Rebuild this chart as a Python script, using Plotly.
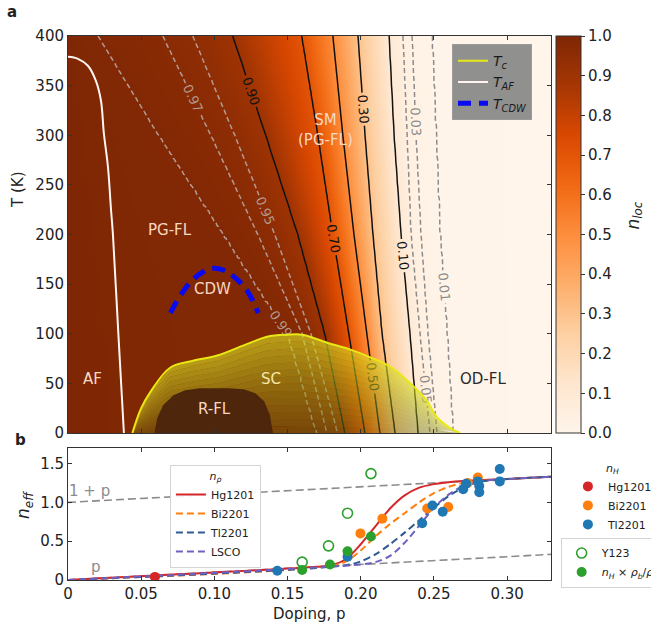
import numpy as np
import plotly.graph_objects as go

# ---------------- Panel a : n_loc contour positions (doping p at T nodes) ----------------
T_nodes = [0, 100, 200, 300, 400]
loc_levels = [0.99, 0.97, 0.95, 0.90, 0.70, 0.50, 0.30, 0.10, 0.05, 0.03, 0.01]
p_099 = [0.1701, 0.1503, 0.1066, 0.0622, 0.0205]
p_097 = [0.1769, 0.1600, 0.1298, 0.0977, 0.0649]
p_095 = [0.1844, 0.1660, 0.1414, 0.1140, 0.0854]
p_090 = [0.1892, 0.1755, 0.1571, 0.1352, 0.1127]
p_070 = [0.2029, 0.1919, 0.1810, 0.1708, 0.1598]
p_050 = [0.2131, 0.2042, 0.1954, 0.1878, 0.1810]
p_030 = [0.2234, 0.2145, 0.2083, 0.2029, 0.1981]
p_010 = [0.2391, 0.2336, 0.2275, 0.2227, 0.2193]
p_005 = [0.2473, 0.2404, 0.2343, 0.2316, 0.2288]
p_003 = [0.2520, 0.2459, 0.2411, 0.2377, 0.2350]
p_001 = [0.2630, 0.2589, 0.2541, 0.2514, 0.2486]
n_left_edge = 1.0
n_right_edge = 0.0
P_MAX = 0.33

# Tc dome
tc_p = [0.044, 0.050, 0.057, 0.070, 0.086, 0.102, 0.123, 0.136, 0.150, 0.160, 0.177,
        0.193, 0.207, 0.220, 0.234, 0.245, 0.252, 0.260, 0.268]
tc_T = [0, 25, 43, 66, 73, 78, 90, 97, 99, 99, 91, 84, 76, 67, 50, 33, 16, 6, 0]
# R-FL dome
rfl_p = [0.059, 0.061, 0.065, 0.072, 0.080, 0.090, 0.100, 0.110, 0.120, 0.128, 0.134, 0.138, 0.140]
rfl_T = [0, 15, 28, 38, 43, 45, 45, 45, 44, 40, 32, 18, 0]
# T_AF
taf_p = [0.0, 0.0068, 0.0136, 0.019, 0.0225, 0.0245, 0.0273, 0.0293, 0.0307, 0.0344, 0.0382]
taf_T = [379, 377, 370, 355, 335, 302, 268, 227, 200, 100, 0]
# T_CDW
cdw_p = [0.070, 0.077, 0.085, 0.093, 0.100, 0.108, 0.116, 0.123, 0.130]
cdw_T = [121, 139, 154, 163, 166, 163, 154, 142, 121]

# ---------------- Panel b ----------------
ref_p = [0.0, 0.33]
ref_1p = [1.0, 1.33]
ref_p_n = [0.0, 0.33]

hg_p = [0, 0.17, 0.18, 0.19, 0.20, 0.21, 0.22, 0.23, 0.24, 0.25, 0.26, 0.27, 0.30, 0.33]
hg_n = [0, 0.17, 0.19, 0.27, 0.46, 0.69, 0.92, 1.09, 1.19, 1.235, 1.26, 1.275, 1.30, 1.33]
bi_p = [0, 0.18, 0.19, 0.20, 0.21, 0.22, 0.23, 0.24, 0.25, 0.26, 0.27, 0.30, 0.33]
bi_n = [0, 0.18, 0.24, 0.38, 0.56, 0.72, 0.86, 1.00, 1.12, 1.20, 1.25, 1.30, 1.33]
tl_p = [0, 0.19, 0.20, 0.21, 0.22, 0.23, 0.24, 0.25, 0.26, 0.27, 0.28, 0.30, 0.33]
tl_n = [0, 0.19, 0.24, 0.33, 0.46, 0.61, 0.77, 0.93, 1.08, 1.19, 1.26, 1.30, 1.33]
lsco_p = [0, 0.20, 0.21, 0.22, 0.23, 0.24, 0.25, 0.26, 0.27, 0.28, 0.30, 0.33]
lsco_n = [0, 0.20, 0.23, 0.31, 0.48, 0.70, 0.93, 1.10, 1.21, 1.27, 1.30, 1.33]

hgH_p = [0.0594]
hgH_n = [0.04]
biH_p = [0.1998, 0.2148, 0.2454, 0.2598, 0.273, 0.280]
biH_n = [0.60, 0.79, 0.92, 0.94, 1.25, 1.32]
tlH_p = [0.143, 0.191, 0.242, 0.249, 0.256, 0.270, 0.272, 0.281, 0.281, 0.280, 0.295, 0.295]
tlH_n = [0.12, 0.30, 0.73, 0.96, 0.88, 1.17, 1.24, 1.21, 1.13, 1.27, 1.43, 1.27]
y123_p = [0.160, 0.178, 0.191, 0.207]
y123_n = [0.23, 0.44, 0.86, 1.37]
grn_p = [0.160, 0.179, 0.191, 0.207]
grn_n = [0.13, 0.20, 0.37, 0.56]

# ---------------- build the n_loc field from the read contour positions ----------------
p_grid = np.round(np.linspace(0, P_MAX, 331), 4)
T_grid = np.arange(0, 401, 4)
level_pos = [p_099, p_097, p_095, p_090, p_070, p_050, p_030, p_010, p_005, p_003, p_001]
Z = np.empty((len(T_grid), len(p_grid)))
for i, T in enumerate(T_grid):
    pos = [float(np.interp(T, T_nodes, row)) for row in level_pos]
    xp = [0.0] + pos + [P_MAX]
    fp = [n_left_edge] + loc_levels + [n_right_edge]
    Z[i] = np.interp(p_grid, xp, fp)
Z = np.round(Z, 4)

oranges = [[0.0, 'rgb(255,245,235)'], [0.125, 'rgb(254,230,206)'], [0.25, 'rgb(253,208,162)'],
           [0.375, 'rgb(253,174,107)'], [0.5, 'rgb(253,141,60)'], [0.625, 'rgb(241,105,19)'],
           [0.75, 'rgb(217,72,1)'], [0.875, 'rgb(166,54,3)'], [1.0, 'rgb(127,39,4)']]

fig = go.Figure()

fig.add_trace(go.Heatmap(
    x=p_grid, y=T_grid, z=Z, zmin=0, zmax=1, colorscale=oranges, zsmooth='best',
    hoverinfo='skip', xaxis='x', yaxis='y',
    colorbar=dict(x=1.0104, xanchor='left', xpad=0, y=1.0, yanchor='top', ypad=0,
                  len=397 / 544, lenmode='fraction', thickness=25, thicknessmode='pixels',
                  outlinewidth=1, outlinecolor='#333',
                  tickvals=[i / 10 for i in range(11)], ticktext=['%.1f' % (i / 10) for i in range(11)],
                  ticks='outside', ticklen=4, tickcolor='#333',
                  tickfont=dict(size=15, color='#222', family='DejaVu Sans'))))

contour_common = dict(x=p_grid, y=T_grid, z=Z, showscale=False, hoverinfo='skip',
                      autocontour=False, xaxis='x', yaxis='y')
fig.add_trace(go.Contour(**contour_common,
                         colorscale=[[0, '#b49a90'], [1, '#b49a90']],
                         contours=dict(start=0.95, end=0.99, size=0.02, coloring='lines',
                                       showlabels=True, labelformat='.2f',
                                       labelfont=dict(size=13, color='#b49a90', family='DejaVu Sans')),
                         line=dict(width=1.5, dash='5px,3px')))
fig.add_trace(go.Contour(**contour_common,
                         colorscale=[[0, '#8c8c8c'], [1, '#8c8c8c']],
                         contours=dict(start=0.01, end=0.05, size=0.02, coloring='lines',
                                       showlabels=True, labelformat='.2f',
                                       labelfont=dict(size=13, color='#8c8c8c', family='DejaVu Sans')),
                         line=dict(width=1.5, dash='5px,3px')))
fig.add_trace(go.Contour(**contour_common,
                         colorscale=[[0, '#111111'], [1, '#111111']],
                         contours=dict(start=0.1, end=0.9, size=0.2, coloring='lines',
                                       showlabels=True, labelformat='.2f',
                                       labelfont=dict(size=13, color='#111111', family='DejaVu Sans')),
                         line=dict(width=1.5)))

# SC dome as gradient bands
tcp = np.array(tc_p)
tcT = np.array(tc_T, dtype=float)
nb = 14
c_lo = np.array([108, 112, 15])
c_hi = np.array([215, 222, 35])
for i in range(nb):
    f0, f1 = i / nb, (i + 1) / nb
    fm = (f0 + f1) / 2
    c = c_lo + (c_hi - c_lo) * fm
    a = 0.42 + 0.23 * fm
    xs = np.concatenate([tcp, tcp[::-1]])
    ys = np.concatenate([tcT * f1, (tcT * f0)[::-1]])
    fig.add_trace(go.Scatter(x=xs, y=ys, mode='lines', fill='toself',
                             fillcolor='rgba(%d,%d,%d,%.3f)' % (c[0], c[1], c[2], a),
                             line=dict(width=0), hoverinfo='skip', showlegend=False,
                             xaxis='x', yaxis='y'))

fig.add_trace(go.Scatter(x=rfl_p, y=rfl_T, mode='lines', fill='toself', fillcolor='#4e260b',
                         line=dict(width=0), hoverinfo='skip', showlegend=False, xaxis='x', yaxis='y'))

fig.add_trace(go.Scatter(x=tc_p, y=tc_T, mode='lines', line=dict(color='#e8e814', width=2, shape='spline'),
                         name='<i>T</i><sub><i>c</i></sub>', legend='legend', xaxis='x', yaxis='y'))
fig.add_trace(go.Scatter(x=taf_p, y=taf_T, mode='lines', line=dict(color='#fff4ee', width=2, shape='spline'),
                         name='<i>T</i><sub><i>AF</i></sub>', legend='legend', xaxis='x', yaxis='y'))
fig.add_trace(go.Scatter(x=cdw_p, y=cdw_T, mode='lines',
                         line=dict(color='#0a0af0', width=5, dash='13px,8px', shape='spline'),
                         name='<i>T</i><sub><i>CDW</i></sub>', legend='legend', xaxis='x', yaxis='y'))

# ---------------- Panel b traces ----------------
fig.add_trace(go.Scatter(x=ref_p, y=ref_1p, mode='lines', line=dict(color='#8c8c8c', width=1.6, dash='8px,4px'),
                         showlegend=False, hoverinfo='skip', xaxis='x2', yaxis='y2'))
fig.add_trace(go.Scatter(x=ref_p, y=ref_p_n, mode='lines', line=dict(color='#8c8c8c', width=1.6, dash='8px,4px'),
                         showlegend=False, hoverinfo='skip', xaxis='x2', yaxis='y2'))

fig.add_trace(go.Scatter(x=hg_p, y=hg_n, mode='lines', name='Hg1201', legend='legend2',
                         line=dict(color='#d62728', width=2, shape='spline', smoothing=0.8), xaxis='x2', yaxis='y2'))
fig.add_trace(go.Scatter(x=bi_p, y=bi_n, mode='lines', name='Bi2201', legend='legend2',
                         line=dict(color='#ff7f0e', width=2, dash='7px,4px', shape='spline', smoothing=0.8),
                         xaxis='x2', yaxis='y2'))
fig.add_trace(go.Scatter(x=tl_p, y=tl_n, mode='lines', name='Tl2201', legend='legend2',
                         line=dict(color='#2e5a94', width=2, dash='7px,4px', shape='spline', smoothing=0.8),
                         xaxis='x2', yaxis='y2'))
fig.add_trace(go.Scatter(x=lsco_p, y=lsco_n, mode='lines', name='LSCO', legend='legend2',
                         line=dict(color='#7060c0', width=2, dash='7px,4px', shape='spline', smoothing=0.8),
                         xaxis='x2', yaxis='y2'))

mk = dict(size=10)
fig.add_trace(go.Scatter(x=hgH_p, y=hgH_n, mode='markers', name='Hg1201', legend='legend3',
                         marker=dict(color='#d62728', **mk), xaxis='x2', yaxis='y2'))
fig.add_trace(go.Scatter(x=biH_p, y=biH_n, mode='markers', name='Bi2201', legend='legend3',
                         marker=dict(color='#ff7f0e', **mk), xaxis='x2', yaxis='y2'))
fig.add_trace(go.Scatter(x=tlH_p, y=tlH_n, mode='markers', name='Tl2201', legend='legend3',
                         marker=dict(color='#1f77b4', **mk), xaxis='x2', yaxis='y2'))
fig.add_trace(go.Scatter(x=y123_p, y=y123_n, mode='markers', name='Y123', legend='legend4',
                         marker=dict(color='#2ca02c', symbol='circle-open', line=dict(width=1.6), **mk),
                         xaxis='x2', yaxis='y2'))
fig.add_trace(go.Scatter(x=grn_p, y=grn_n, mode='markers',
                         name='<i>n</i><sub><i>H</i></sub> × <i>ρ</i><sub><i>b</i></sub>/<i>ρ</i><sub><i>a</i></sub>',
                         legend='legend4', marker=dict(color='#2ca02c', **mk), xaxis='x2', yaxis='y2'))

# ---------------- layout ----------------
ax_common = dict(showgrid=False, zeroline=False, showline=True, linecolor='#333', linewidth=1,
                 mirror='ticks', ticks='inside', ticklen=4, tickcolor='#333',
                 tickfont=dict(size=15, color='#222', family='DejaVu Sans'))
xt = [0, 0.05, 0.10, 0.15, 0.20, 0.25, 0.30]
fig.update_layout(
    width=651, height=626,
    margin=dict(l=68, r=100, t=36, b=46, autoexpand=False),
    plot_bgcolor='white', paper_bgcolor='white', hovermode=False,
    font=dict(family='DejaVu Sans', size=15, color='#222'),
    xaxis=dict(domain=[0, 1], anchor='y', range=[0, 0.33], tickvals=xt, showticklabels=False, **ax_common),
    yaxis=dict(domain=[147 / 544, 1], anchor='x', range=[0, 400], tickvals=list(range(0, 401, 50)), **ax_common),
    xaxis2=dict(domain=[0, 1], anchor='y2', range=[0, 0.33], tickvals=xt,
                ticktext=['0', '0.05', '0.10', '0.15', '0.20', '0.25', '0.30'], **ax_common),
    yaxis2=dict(domain=[0, 132 / 544], anchor='x2', range=[0, 1.7], tickvals=[0, 0.5, 1.0, 1.5],
                ticktext=['0', '0.5', '1.0', '1.5'], **ax_common),
    legend=dict(x=0.795, y=0.985, xanchor='left', yanchor='top', bgcolor='rgba(138,138,138,0.95)',
                bordercolor='#9a9a9a', borderwidth=1, font=dict(size=14, color='#1a1a1a'),
                itemwidth=30, tracegroupgap=0),
    legend2=dict(x=0.211, y=0.212, xanchor='left', yanchor='top', bgcolor='rgba(255,255,255,0.9)',
                 bordercolor='#d4d4d4', borderwidth=1, font=dict(size=11, color='#222'),
                 title=dict(text='<i>n</i><sub><i>ρ</i></sub>', side='top center', font=dict(size=11)),
                 itemwidth=30),
    legend3=dict(x=1.035, y=0.225, xanchor='left', yanchor='top', bgcolor='rgba(0,0,0,0)',
                 borderwidth=0, font=dict(size=11, color='#222'),
                 title=dict(text='<i>n</i><sub><i>H</i></sub>', side='top center', font=dict(size=11)),
                 itemwidth=30),
    legend4=dict(x=1.02, y=0.078, xanchor='left', yanchor='top', bgcolor='white',
                 bordercolor='#d4d4d4', borderwidth=1, font=dict(size=11, color='#222'), itemwidth=30),
)

lbl = '#f8d8c2'
ann = [
    dict(x=0.0697, y=205, text='PG-FL', color=lbl),
    dict(x=0.099, y=145, text='CDW', color=lbl),
    dict(x=0.017, y=54, text='AF', color=lbl),
    dict(x=0.139, y=54, text='SC', color='#f5e8a8'),
    dict(x=0.1004, y=24, text='R-FL', color=lbl),
    dict(x=0.2835, y=54, text='OD-FL', color='#2a2a2a'),
    dict(x=0.1762, y=305, text='SM<br>(PG-FL)', color=lbl),
]
for a in ann:
    fig.add_annotation(x=a['x'], y=a['y'], xref='x', yref='y', text=a['text'], showarrow=False,
                       xanchor='center', yanchor='middle',
                       font=dict(size=15, color=a['color'], family='DejaVu Sans'))

fig.add_annotation(x=0.015, y=1.15, xref='x2', yref='y2', text='1 + p', showarrow=False,
                   xanchor='center', yanchor='middle', font=dict(size=15, color='#8c8c8c'))
fig.add_annotation(x=0.019, y=0.17, xref='x2', yref='y2', text='p', showarrow=False,
                   xanchor='center', yanchor='middle', font=dict(size=15, color='#8c8c8c'))

paper_ann = [
    dict(x=-0.1035, y=0.717, text='T (K)', angle=-90, size=15),
    dict(x=-0.089, y=0.138, text='<i>n</i><sub><i>eff</i></sub>', angle=-90, size=17),
    dict(x=0.501, y=-0.062, text='Doping, p', angle=0, size=15),
    dict(x=1.172, y=0.67, text='<i>n</i><sub><i>loc</i></sub>', angle=-90, size=17),
    dict(x=-0.116, y=1.044, text='<b>a</b>', angle=0, size=15),
    dict(x=-0.099, y=0.257, text='<b>b</b>', angle=0, size=15),
]
for a in paper_ann:
    fig.add_annotation(x=a['x'], y=a['y'], xref='paper', yref='paper', text=a['text'],
                       textangle=a['angle'], showarrow=False, xanchor='center', yanchor='middle',
                       font=dict(size=a['size'], color='#222'))

fig.write_html("out.html", config={'displayModeBar': False},
               post_script="document.body.style.margin='0px';")
